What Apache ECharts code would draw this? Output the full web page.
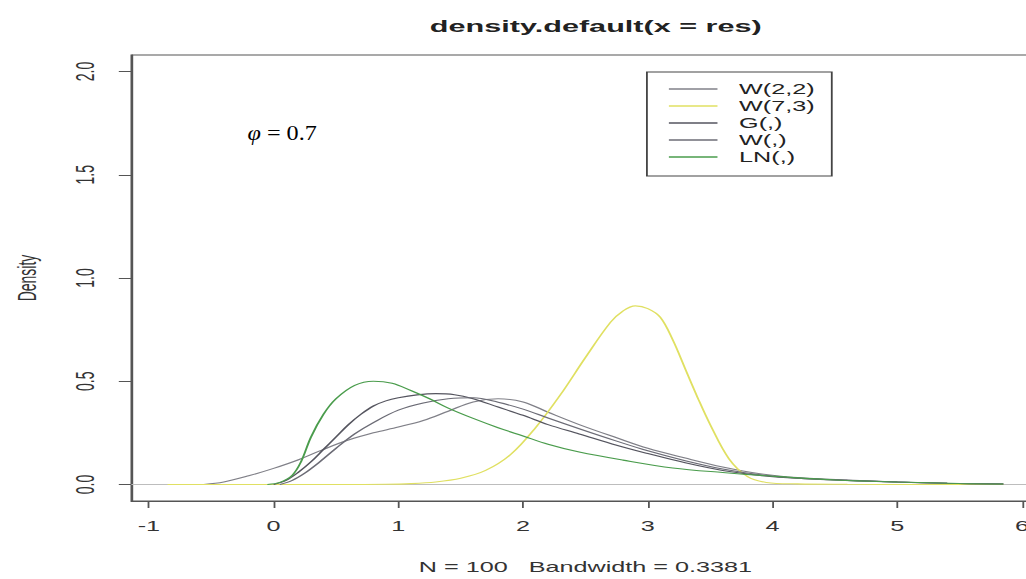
<!DOCTYPE html>
<html>
<head>
<meta charset="UTF-8">
<title>density.default(x = res)</title>
<script src="https://cdn.jsdelivr.net/npm/echarts@6/dist/echarts.min.js"></script>
<style>
html, body { margin: 0; padding: 0; background: #fff; overflow: hidden; }
#wrap { width: 1026px; height: 579px; overflow: hidden; position: relative; }
/* the original R plot was stretched sideways, so draw narrow and widen */
#main { width: 600px; height: 579px; transform: scaleX(1.8); transform-origin: 0 0; }
</style>
</head>
<body>
<div id="wrap"><div id="main"></div></div>
<script>
var xTicks = [-1, 0, 1, 2, 3, 4, 5, 6];
var yTicks = [0, 0.5, 1, 1.5, 2];
var names = ['W(2,2)', 'W(7,3)', 'G(,)', 'W(,)', 'LN(,)'];

var w22X = [-0.56, -0.4, -0.2, 0, 0.2, 0.4, 0.6, 0.8, 1.0, 1.2, 1.4, 1.6, 1.8, 2.0, 2.2, 2.45, 2.75, 3.0, 3.3, 3.6, 3.9, 4.2, 4.6, 5.0, 5.4, 5.85];
var w22Y = [0, 0.012, 0.042, 0.078, 0.12, 0.17, 0.215, 0.25, 0.278, 0.31, 0.355, 0.40, 0.415, 0.40, 0.35, 0.29, 0.226, 0.175, 0.128, 0.085, 0.052, 0.033, 0.021, 0.012, 0.006, 0.002];

var w73X = [-0.85, -0.4, 0, 0.5, 0.9, 1.1, 1.3, 1.5, 1.7, 1.9, 2.1, 2.3, 2.5, 2.7, 2.8, 2.9, 3.0, 3.1, 3.2, 3.3, 3.4, 3.5, 3.65, 3.8, 3.95, 4.2, 4.6, 5.2, 5.85];
var w73Y = [0, 0, 0, 0, 0.001, 0.004, 0.012, 0.03, 0.068, 0.145, 0.275, 0.435, 0.615, 0.785, 0.84, 0.865, 0.852, 0.81, 0.70, 0.56, 0.42, 0.29, 0.125, 0.038, 0.01, 0.003, 0.001, 0, 0];

var gX = [0, 0.1, 0.2, 0.3, 0.4, 0.5, 0.6, 0.7, 0.8, 0.9, 1.0, 1.15, 1.3, 1.45, 1.6, 1.8, 2.0, 2.2, 2.45, 2.75, 3.0, 3.3, 3.6, 3.9, 4.2, 4.6, 5.0, 5.4, 5.85];
var gY = [0, 0.02, 0.06, 0.11, 0.17, 0.23, 0.29, 0.34, 0.38, 0.405, 0.42, 0.434, 0.44, 0.435, 0.415, 0.375, 0.335, 0.29, 0.245, 0.19, 0.15, 0.105, 0.068, 0.044, 0.03, 0.02, 0.012, 0.006, 0.002];

var wX = [0.05, 0.15, 0.25, 0.35, 0.5, 0.65, 0.8, 1.0, 1.2, 1.4, 1.6, 1.8, 2.0, 2.2, 2.45, 2.75, 3.0, 3.3, 3.6, 3.9, 4.2, 4.6, 5.0, 5.4, 5.85];
var wY = [0, 0.02, 0.055, 0.1, 0.175, 0.245, 0.3, 0.36, 0.395, 0.415, 0.42, 0.398, 0.365, 0.322, 0.27, 0.21, 0.163, 0.115, 0.075, 0.047, 0.031, 0.02, 0.012, 0.006, 0.002];

var lnX = [-0.05, 0.05, 0.15, 0.22, 0.3, 0.4, 0.5, 0.65, 0.8, 0.95, 1.1, 1.25, 1.4, 1.6, 1.8, 2.0, 2.2, 2.45, 2.8, 3.2, 3.6, 4.0, 4.5, 5.0, 5.5, 5.85];
var lnY = [0, 0.01, 0.045, 0.11, 0.23, 0.34, 0.415, 0.48, 0.50, 0.49, 0.455, 0.415, 0.37, 0.32, 0.275, 0.235, 0.195, 0.157, 0.118, 0.08, 0.058, 0.04, 0.022, 0.012, 0.005, 0.002];

function pairs(xs, ys) {
	var out = [];
	for (var i = 0; i < xs.length; i++) out.push([xs[i], ys[i]]);
	return out;
}

function curve(name, xs, ys, color) {
	return {
		name: name,
		type: 'line',
		data: pairs(xs, ys),
		smooth: 0.35,
		showSymbol: false,
		lineStyle: { color: color, width: 1.1 },
		itemStyle: { color: color },
		z: 3
	};
}

var font = 'Liberation Sans, Arial, sans-serif';
var series = [
	curve(names[0], w22X, w22Y, '#808088'),
	curve(names[1], w73X, w73Y, '#e0e062'),
	curve(names[2], gX, gY, '#55555f'),
	curve(names[3], wX, wY, '#6c6c76'),
	curve(names[4], lnX, lnY, '#4a9c4c')
];
// zero line, like abline(h = 0, col = "gray")
series[0].markLine = {
	silent: true,
	symbol: ['none', 'none'],
	label: { show: false },
	lineStyle: { color: '#bdbdbd', type: 'solid', width: 1.2 },
	data: [{ yAxis: 0 }],
	z: 1
};

var myChart = echarts.init(document.getElementById('main'), null, { renderer: 'svg' });
var option = {
	animation: false,
	backgroundColor: '#fff',
	title: {
		text: 'density.default(x = res)',
		left: 326,
		textAlign: 'center',
		top: 13,
		textStyle: { fontFamily: font, fontSize: 17, fontWeight: 'bold', color: '#222' }
	},
	legend: {
		left: 359.4,
		top: 72,
		orient: 'vertical',
		icon: 'rect',
		itemWidth: 27,
		itemHeight: 1.6,
		itemGap: 0,
		padding: [8.5, 9.5, 10.5, 12.2],
		borderColor: '#444',
		borderWidth: 1,
		selectedMode: false,
		textStyle: { fontFamily: font, fontSize: 14, lineHeight: 17, color: '#222', padding: [0, 0, 0, 7] },
		data: names
	},
	grid: {
		left: 71.1,
		top: 55,
		width: 506.4,
		height: 449,
		show: true,
		borderColor: '#555',
		borderWidth: 1
	},
	xAxis: {
		type: 'value',
		min: -1.14,
		max: 6.14,
		splitLine: { show: false },
		axisLine: { show: true, onZero: false, lineStyle: { color: '#555' } },
		axisTick: { show: true, length: 7, customValues: xTicks, lineStyle: { color: '#555' } },
		axisLabel: { customValues: xTicks, margin: 18, fontFamily: font, fontSize: 14, color: '#333' },
		name: 'N = 100   Bandwidth = 0.3381',
		nameLocation: 'middle',
		nameGap: 59,
		nameTextStyle: { fontFamily: font, fontSize: 14, color: '#333' }
	},
	yAxis: {
		type: 'value',
		min: -0.08,
		max: 2.08,
		splitLine: { show: false },
		axisLine: { show: true, onZero: false, lineStyle: { color: '#555' } },
		axisTick: { show: true, length: 7, customValues: yTicks, lineStyle: { color: '#555' } },
		axisLabel: {
			customValues: yTicks, rotate: 90, margin: 18.5,
			fontFamily: font, fontSize: 14, color: '#333',
			formatter: function (v) { return v.toFixed(1); }
		},
		name: 'Density',
		nameLocation: 'middle',
		nameGap: 51,
		nameTextStyle: { fontFamily: font, fontSize: 14, color: '#333' }
	},
	graphic: [{
		type: 'text',
		x: 137.5,
		y: 133,
		scaleX: 0.64,
		style: {
			text: '{p|φ} = 0.7',
			fill: '#000',
			fontFamily: 'Liberation Serif, Times New Roman, serif',
			fontSize: 21,
			verticalAlign: 'middle',
			rich: {
				p: { fontFamily: 'Liberation Serif, Times New Roman, serif', fontSize: 21, fontStyle: 'italic', fill: '#000' }
			}
		}
	}],
	series: series
};
myChart.setOption(option);
</script>
</body>
</html>
